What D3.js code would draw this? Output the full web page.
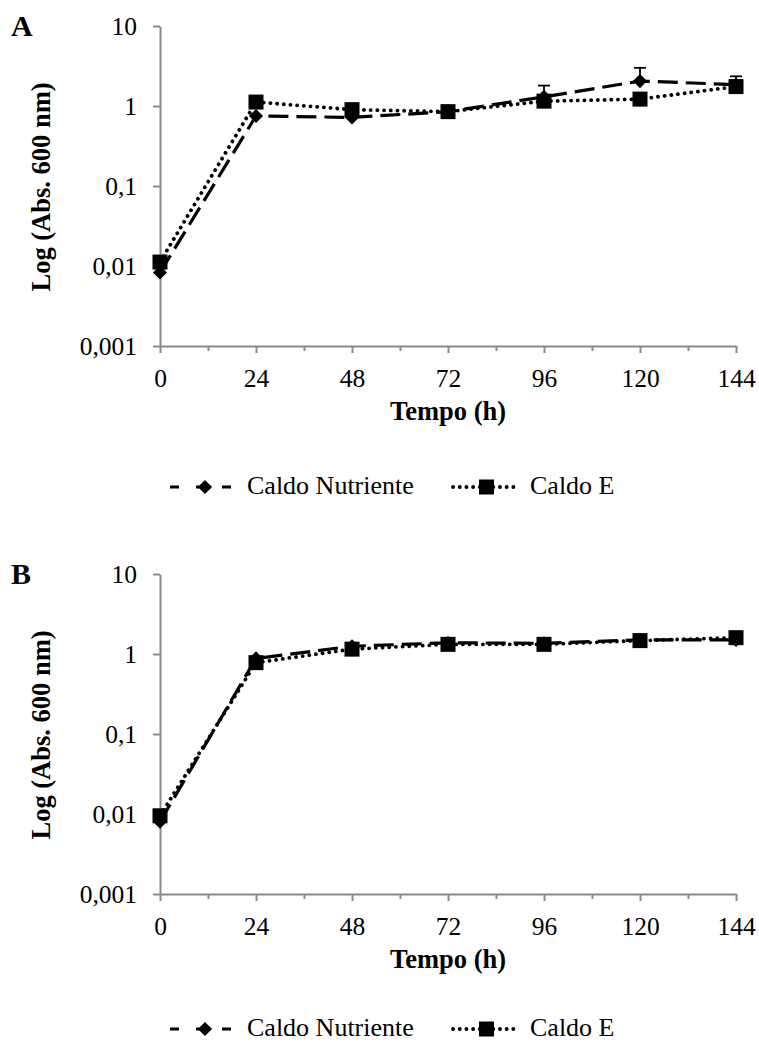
<!DOCTYPE html>
<html>
<head>
<meta charset="utf-8">
<script src="https://cdn.jsdelivr.net/npm/d3@7"></script>
<style>
  body { margin: 0; background: #fff; }
</style>
</head>
<body>
<svg id="chart" width="759" height="1045"></svg>
<script>
// time points (h)
const hours = [0, 24, 48, 72, 96, 120, 144];
const yTicks = [0.001, 0.01, 0.1, 1, 10];
const seriesNames = ['Caldo Nutriente', 'Caldo E'];

// panel A
const aNutriente = [0.0083, 0.75, 0.72, 0.85, 1.3, 2.05, 1.85];
const aNutrienteErr = [0, 0, 0, 0, 0.5, 0.95, 0.5];
const aCaldoE = [0.0112, 1.12, 0.9, 0.85, 1.15, 1.22, 1.75];
const aCaldoEErr = [0, 0, 0, 0, 0, 0, 0];

// panel B
const bNutriente = [0.008, 0.88, 1.25, 1.38, 1.36, 1.5, 1.5];
const bNutrienteErr = [0, 0, 0, 0, 0, 0, 0];
const bCaldoE = [0.0095, 0.78, 1.15, 1.32, 1.32, 1.47, 1.6];
const bCaldoEErr = [0, 0, 0, 0, 0, 0, 0];

const svg = d3.select('#chart');
const axisColor = '#8a8a8a';
const FONT = '"Liberation Serif", "Times New Roman", serif';

// diamond drawn as a square turned 45 degrees
const diamond = {
  draw(ctx, size) {
    const r = Math.sqrt(size) / 2;
    ctx.moveTo(0, -r); ctx.lineTo(r, 0); ctx.lineTo(0, r); ctx.lineTo(-r, 0); ctx.closePath();
  }
};

function drawPanel(letter, top, legendY, nutr, nutrErr, cE, cEErr) {
  const left = 160, width = 576, height = 320;
  const g = svg.append('g').attr('transform', 'translate(' + left + ',' + top + ')');

  const x = d3.scaleLinear().domain([0, 144]).range([0, width]);
  const y = d3.scaleLog().domain([0.001, 10]).range([height, 0]);

  // y axis
  const yAxis = d3.axisLeft(y).tickValues(yTicks).tickSize(7).tickSizeOuter(0).tickPadding(16)
    .tickFormat(d => String(d).replace('.', ','));
  const ya = g.append('g').call(yAxis);
  ya.select('.domain').attr('stroke', axisColor).attr('stroke-width', 2);
  ya.selectAll('.tick line').attr('stroke', axisColor).attr('stroke-width', 2);
  ya.selectAll('text').style('font-size', '25.5px').style('font-family', FONT).attr('fill', '#000');

  // x axis (major every 24 h, minor at 12 h)
  const xAxis = d3.axisBottom(x).tickValues(d3.range(0, 145, 12)).tickSize(7).tickSizeOuter(0)
    .tickPadding(16).tickFormat(d => d % 24 === 0 ? d : '');
  const xa = g.append('g').attr('transform', 'translate(0,' + height + ')').call(xAxis);
  xa.select('.domain').attr('stroke', axisColor).attr('stroke-width', 2);
  xa.selectAll('.tick line').attr('stroke', axisColor).attr('stroke-width', 2)
    .attr('y2', d => d % 24 === 0 ? 7 : 5);
  xa.selectAll('text').style('font-size', '25.5px').style('font-family', FONT).attr('fill', '#000');

  // titles
  g.append('text').attr('x', width / 2).attr('y', height + 74)
    .attr('text-anchor', 'middle').style('font-size', '26.5px').style('font-family', FONT)
    .style('font-weight', 'bold').text('Tempo (h)');
  g.append('text').attr('transform', 'translate(-110,' + (height / 2 + 1) + ') rotate(-90)')
    .attr('text-anchor', 'middle').style('font-size', '26.5px').style('font-family', FONT)
    .style('font-weight', 'bold').text('Log (Abs. 600 nm)');
  svg.append('text').attr('x', 11).attr('y', top + 10)
    .style('font-size', '30px').style('font-family', FONT).style('font-weight', 'bold').text(letter);

  const series = [
    { vals: nutr, err: nutrErr, dash: '20,8', cap: 'butt', width: 3.2, sym: diamond, size: 200 },
    { vals: cE, err: cEErr, dash: '0.1,6.6', cap: 'round', width: 3.8, sym: d3.symbolSquare, size: 225 }
  ];

  const line = d3.line().x((d, i) => x(hours[i])).y(d => y(d));

  series.forEach(s => {
    // error bars (upper)
    hours.forEach((h, i) => {
      if (!s.err[i]) return;
      const y0 = y(s.vals[i]), y1 = y(s.vals[i] + s.err[i]);
      g.append('line').attr('x1', x(h)).attr('x2', x(h)).attr('y1', y0).attr('y2', y1)
        .attr('stroke', '#000').attr('stroke-width', 1.8);
      g.append('line').attr('x1', x(h) - 6).attr('x2', x(h) + 6).attr('y1', y1).attr('y2', y1)
        .attr('stroke', '#000').attr('stroke-width', 1.8);
    });
    g.append('path').datum(s.vals).attr('d', line).attr('fill', 'none')
      .attr('stroke', '#000').attr('stroke-width', s.width)
      .attr('stroke-dasharray', s.dash).attr('stroke-linecap', s.cap);
    g.selectAll(null).data(s.vals).enter().append('path')
      .attr('d', d3.symbol().type(s.sym).size(s.size))
      .attr('transform', (d, i) => 'translate(' + x(hours[i]) + ',' + y(d) + ')')
      .attr('fill', '#000');
  });

  // legend
  const ly = legendY;
  const leg = [
    { x0: 170, x1: 240, tx: 247, name: seriesNames[0], s: series[0], dash: '9,17' },
    { x0: 453, x1: 520, tx: 530, name: seriesNames[1], s: series[1], dash: null }
  ];
  leg.forEach(l => {
    svg.append('line').attr('x1', l.x0).attr('x2', l.x1).attr('y1', ly).attr('y2', ly)
      .attr('stroke', '#000').attr('stroke-width', l.s.width)
      .attr('stroke-dasharray', l.dash || l.s.dash).attr('stroke-linecap', l.s.cap);
    svg.append('path').attr('d', d3.symbol().type(l.s.sym).size(l.s.size)())
      .attr('transform', 'translate(' + ((l.x0 + l.x1) / 2) + ',' + ly + ')').attr('fill', '#000');
    svg.append('text').attr('x', l.tx).attr('y', ly + 7)
      .style('font-size', '26px').style('font-family', FONT).text(l.name);
  });
}

drawPanel('A', 26, 487, aNutriente, aNutrienteErr, aCaldoE, aCaldoEErr);
drawPanel('B', 574, 1029, bNutriente, bNutrienteErr, bCaldoE, bCaldoEErr);
</script>
</body>
</html>
